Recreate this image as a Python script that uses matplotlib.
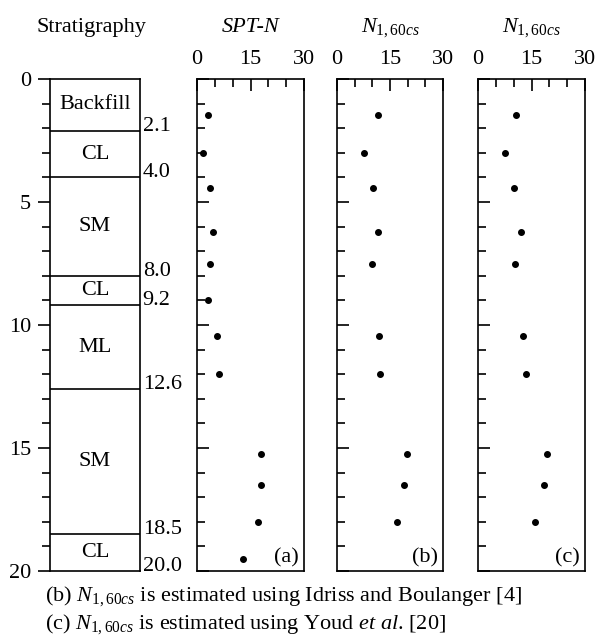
import matplotlib
matplotlib.use("Agg")
import matplotlib.pyplot as plt
import matplotlib.ticker as ticker

plt.rcParams["font.family"] = ["Liberation Serif", "DejaVu Serif"]
plt.rcParams["mathtext.fontset"] = "custom"
plt.rcParams["mathtext.rm"] = "Liberation Serif"
plt.rcParams["mathtext.it"] = "Liberation Serif:italic"
plt.rcParams["font.size"] = 16

# soil layers: bottom depth of each layer (m) and its name
layer_bottoms = [2.1, 4.0, 8.0, 9.2, 12.6, 18.5, 20.0]
layer_names = ["Backfill", "CL", "SM", "CL", "ML", "SM", "CL"]

# SPT-N profile
spt_depth = [1.45, 3.0, 4.45, 6.2, 7.5, 9.0, 10.45, 12.0, 15.25, 16.5, 18.0, 19.5]
spt_n = [3.2, 1.6, 3.6, 4.6, 3.6, 3.2, 5.5, 6.2, 17.9, 17.9, 17.0, 13.0]

# N1,60cs after Idriss and Boulanger
ib_depth = [1.45, 3.0, 4.45, 6.2, 7.5, 10.45, 12.0, 15.25, 16.5, 18.0]
ib_n = [11.5, 7.7, 10.1, 11.5, 9.9, 12.0, 12.3, 19.7, 19.1, 16.9]

# N1,60cs after Youd et al.
youd_depth = [1.45, 3.0, 4.45, 6.2, 7.5, 10.45, 12.0, 15.25, 16.5, 18.0]
youd_n = [10.7, 7.6, 10.1, 12.0, 10.3, 12.5, 13.4, 19.3, 18.6, 16.1]

W, H = 595, 641
fig = plt.figure(figsize=(W / 100, H / 100), dpi=100)


def px_axes(x0, x1, y0, y1):
    return fig.add_axes([x0 / W, 1 - y1 / H, (x1 - x0) / W, (y1 - y0) / H])


lw = 1.2

# stratigraphy column
ax0 = px_axes(50, 140, 79, 571)
ax0.set_xlim(0, 1)
ax0.set_ylim(20, 0)
ax0.set_xticks([])
ax0.yaxis.set_major_locator(ticker.MultipleLocator(5))
ax0.yaxis.set_minor_locator(ticker.MultipleLocator(1))
ax0.tick_params(axis="y", which="major", direction="out", length=8.5, width=lw, pad=5)
ax0.tick_params(axis="y", which="minor", direction="out", length=5.5, width=lw)
for s in ax0.spines.values():
    s.set_linewidth(lw)

top = 0.0
for bottom, name in zip(layer_bottoms, layer_names):
    if bottom < 20:
        ax0.axhline(bottom, color="black", lw=lw)
    ax0.text(0.5, (top + bottom) / 2, name, ha="center", va="center")
    ax0.text(1.03, bottom, f"{bottom:.1f}", ha="left", va="baseline",
             transform=ax0.get_yaxis_transform())
    top = bottom

fig.text(91 / W, 1 - 32 / H, "Stratigraphy", ha="center", va="baseline")

panels = [
    ((197, 304), spt_depth, spt_n, "SPT-N", "(a)"),
    ((337, 443), ib_depth, ib_n, r"$N_{1,60cs}$", "(b)"),
    ((478, 585), youd_depth, youd_n, r"$N_{1,60cs}$", "(c)"),
]

for (x0, x1), depth, vals, title, tag in panels:
    ax = px_axes(x0, x1, 79, 571)
    ax.plot(vals, depth, "o", color="black", markersize=4)
    ax.set_xlim(0, 30)
    ax.set_ylim(20, 0)
    ax.xaxis.tick_top()
    ax.xaxis.set_major_locator(ticker.MultipleLocator(15))
    ax.xaxis.set_minor_locator(ticker.MultipleLocator(5))
    ax.yaxis.set_major_locator(ticker.MultipleLocator(5))
    ax.yaxis.set_minor_locator(ticker.MultipleLocator(1))
    ax.tick_params(which="major", direction="in", length=8.5, width=lw)
    ax.tick_params(which="minor", direction="in", length=5.5, width=lw)
    ax.tick_params(axis="x", pad=7)
    ax.tick_params(axis="y", labelleft=False)
    for s in ax.spines.values():
        s.set_linewidth(lw)
    ax.text(0.95, 0.008, tag, ha="right", va="bottom", transform=ax.transAxes)
    style = "italic" if tag == "(a)" else "normal"
    fig.text((x0 + x1) / 2 / W, 1 - 32 / H, title, ha="center", va="baseline",
             style=style)

fig.text(45 / W, 1 - 601 / H,
         r"(b) $N_{1,60cs}$ is estimated using Idriss and Boulanger [4]",
         ha="left", va="baseline")
fig.text(45 / W, 1 - 629 / H,
         r"(c) $N_{1,60cs}$ is estimated using Youd $\mathit{et\ al}$. [20]",
         ha="left", va="baseline")

fig.savefig("out.png", dpi=100)
